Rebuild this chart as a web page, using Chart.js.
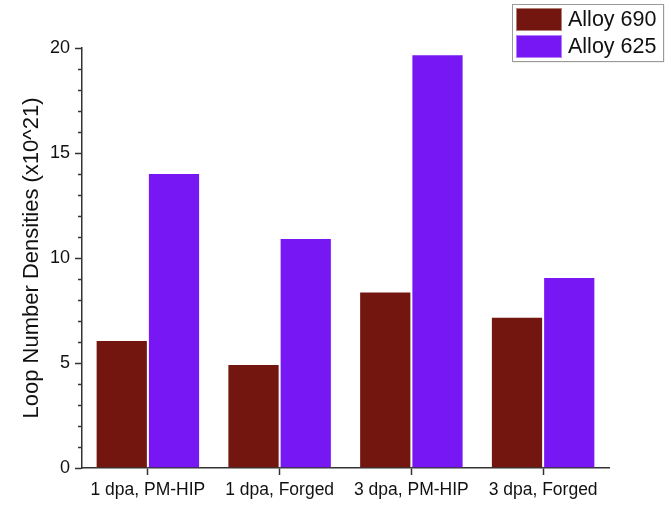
<!DOCTYPE html>
<html>
<head>
<meta charset="utf-8">
<script src="https://cdn.jsdelivr.net/npm/chart.js@4.4.1/dist/chart.umd.min.js"></script>
<style>
  html, body { margin: 0; padding: 0; background: #fff; }
  #wrap { width: 671px; height: 505px; position: relative; }
</style>
</head>
<body>
<div id="wrap"><canvas id="loops"></canvas></div>
<script>
// -----------------------------
// Data
// -----------------------------
const categories = ['1 dpa, PM-HIP', '1 dpa, Forged', '3 dpa, PM-HIP', '3 dpa, Forged'];
const alloy690 = [6.1, 4.95, 8.4, 7.2];
const alloy625 = [14.05, 10.95, 19.7, 9.1];
const yTicks = [0, 5, 10, 15, 20];

const FONT = "'Liberation Sans', Arial, Helvetica, sans-serif";
const AXIS = '#333';

// short minor ticks on the y axis (majors come from the grid)
const minorTicks = {
    id: 'minorTicks',
    afterDraw(chart) {
        const y = chart.scales.y;
        const ctx = chart.ctx;
        ctx.save();
        ctx.strokeStyle = AXIS;
        ctx.lineWidth = 1.5;
        y.ticks.forEach(t => {
            if (yTicks.includes(t.value)) return;
            const py = Math.round(y.getPixelForValue(t.value)) + 0.5;
            ctx.beginPath();
            ctx.moveTo(y.right, py);
            ctx.lineTo(y.right - 4, py);
            ctx.stroke();
        });
        ctx.restore();
    }
};

// boxed legend in the top right corner
const boxLegend = {
    id: 'boxLegend',
    afterDraw(chart) {
        const ctx = chart.ctx;
        const x = 512, top = 4, w = 151, h = 57;
        ctx.save();
        ctx.fillStyle = '#fff';
        ctx.shadowColor = 'rgba(0,0,0,0.35)';
        ctx.shadowOffsetX = 1;
        ctx.shadowOffsetY = 1;
        ctx.shadowBlur = 1;
        ctx.fillRect(x, top, w, h);
        ctx.shadowColor = 'transparent';
        ctx.strokeStyle = '#9a9a9a';
        ctx.lineWidth = 1;
        ctx.strokeRect(x + 0.5, top + 0.5, w, h);
        ctx.font = `21.5px ${FONT}`;
        ctx.textBaseline = 'middle';
        chart.data.datasets.forEach((ds, i) => {
            const sy = top + 4 + i * 27;
            ctx.fillStyle = ds.backgroundColor;
            ctx.fillRect(x + 4, sy, 46, 23);
            ctx.strokeStyle = 'rgba(255,255,255,0.45)';
            ctx.strokeRect(x + 4.5, sy + 0.5, 45, 22);
            ctx.fillStyle = '#111';
            ctx.fillText(ds.label, x + 56, sy + 12.5);
        });
        ctx.restore();
    }
};

new Chart(document.getElementById('loops'), {
    type: 'bar',
    data: {
        labels: categories,
        datasets: [
            {
                label: 'Alloy 690',
                data: alloy690,
                backgroundColor: '#741610',
                borderColor: 'rgba(255,255,255,0.35)',
                borderWidth: 1
            },
            {
                label: 'Alloy 625',
                data: alloy625,
                backgroundColor: '#7718F4',
                borderColor: 'rgba(255,255,255,0.35)',
                borderWidth: 1
            }
        ]
    },
    options: {
        responsive: true,
        maintainAspectRatio: false,
        animation: false,
        layout: { padding: { top: 48, right: 62, left: 0, bottom: 0 } },
        datasets: { bar: { barPercentage: 1, categoryPercentage: 0.793 } },
        plugins: {
            legend: { display: false },
            tooltip: { enabled: false }
        },
        scales: {
            x: {
                grid: {
                    offset: false,
                    drawOnChartArea: false,
                    tickLength: 7,
                    tickWidth: 1.5,
                    tickColor: AXIS
                },
                border: { display: true, color: AXIS, width: 1.5 },
                ticks: {
                    color: '#111',
                    padding: 5,
                    font: { family: FONT, size: 17.5 }
                },
                afterFit: s => { s.height = 37; }
            },
            y: {
                min: 0,
                max: 20,
                grid: {
                    drawOnChartArea: false,
                    tickLength: 7,
                    tickWidth: 1.5,
                    tickColor: c => yTicks.includes(c.tick.value) ? AXIS : 'transparent'
                },
                border: { display: true, color: AXIS, width: 1.5 },
                ticks: {
                    stepSize: 1,
                    autoSkip: false,
                    color: '#111',
                    padding: 5,
                    font: { family: FONT, size: 18 },
                    callback: v => yTicks.includes(v) ? v : ''
                },
                title: {
                    display: true,
                    text: 'Loop Number Densities (x10^21)',
                    color: '#111',
                    font: { family: FONT, size: 22 },
                    padding: { top: 19, bottom: 0 }
                },
                afterFit: s => { s.width = 82; }
            }
        }
    },
    plugins: [minorTicks, boxLegend]
});
</script>
</body>
</html>
